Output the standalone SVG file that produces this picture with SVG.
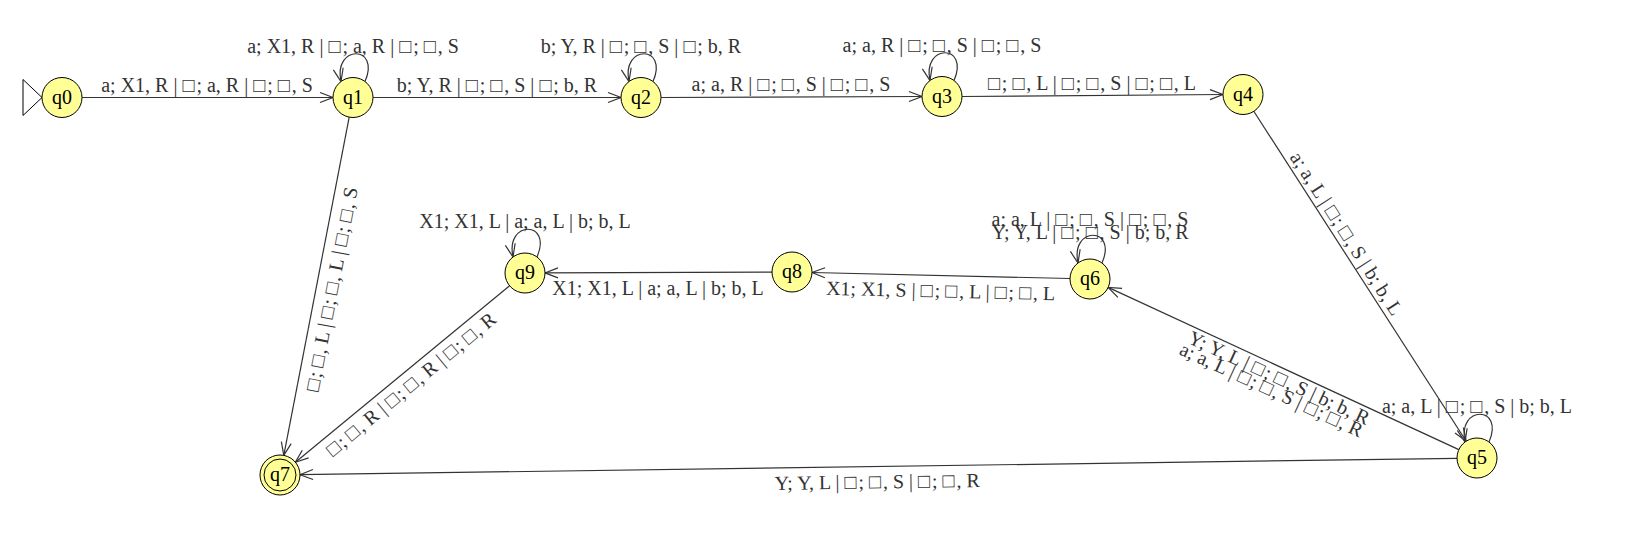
<svg xmlns="http://www.w3.org/2000/svg" width="1628" height="537" viewBox="0 0 1628 537">
<style>
.node circle{fill:#ffff96;stroke:#000;stroke-width:1}
.node text{font-family:"Liberation Serif","DejaVu Serif",serif;font-size:20px;fill:#000;text-anchor:middle}
.edge{stroke:#333;stroke-width:1.2;fill:none;marker-end:url(#arr)}
.lbl{font-family:"Liberation Serif","DejaVu Serif",serif;font-size:20px;fill:#333;text-anchor:middle}
.b{letter-spacing:1.85px}
</style>
<defs>
<marker id="arr" markerUnits="userSpaceOnUse" viewBox="-14 -7 15 14" refX="0" refY="0" markerWidth="15" markerHeight="14" orient="auto">
<path d="M-13,-5 L0,0 L-13,5" fill="none" stroke="#333" stroke-width="1.2"/>
</marker>
</defs>
<rect width="1628" height="537" fill="#fff"/>
<g id="connectors">
<path class="edge" d="M82,97.5 L333,97.5"/>
<text class="lbl" x="207" y="91.5">a; X1, R | <tspan class="b">□</tspan>; a, R | <tspan class="b">□</tspan>; <tspan class="b">□</tspan>, S</text>
<path class="edge" d="M365,81.5 C381,44.5 333,44.5 341,81.5"/>
<text class="lbl" x="353" y="52.5">a; X1, R | <tspan class="b">□</tspan>; a, R | <tspan class="b">□</tspan>; <tspan class="b">□</tspan>, S</text>
<path class="edge" d="M373,97.5 L621,97.5"/>
<text class="lbl" x="497" y="91.5">b; Y, R | <tspan class="b">□</tspan>; <tspan class="b">□</tspan>, S | <tspan class="b">□</tspan>; b, R</text>
<path class="edge" d="M653,81.5 C669,44.5 621,44.5 629,81.5"/>
<text class="lbl" x="641" y="52.5">b; Y, R | <tspan class="b">□</tspan>; <tspan class="b">□</tspan>, S | <tspan class="b">□</tspan>; b, R</text>
<path class="edge" d="M661,97.5 L922,96.5"/>
<text class="lbl" x="791" y="91">a; a, R | <tspan class="b">□</tspan>; <tspan class="b">□</tspan>, S | <tspan class="b">□</tspan>; <tspan class="b">□</tspan>, S</text>
<path class="edge" d="M954,80.5 C970,43.5 922,43.5 930,80.5"/>
<text class="lbl" x="942" y="51.5">a; a, R | <tspan class="b">□</tspan>; <tspan class="b">□</tspan>, S | <tspan class="b">□</tspan>; <tspan class="b">□</tspan>, S</text>
<path class="edge" d="M962,96.5 L1223,94.5"/>
<text class="lbl" x="1092" y="89.5"><tspan class="b">□</tspan>; <tspan class="b">□</tspan>, L | <tspan class="b">□</tspan>; <tspan class="b">□</tspan>, S | <tspan class="b">□</tspan>; <tspan class="b">□</tspan>, L</text>
<path class="edge" d="M1253.8,111.3 L1466.2,441.2"/>
<text class="lbl" transform="translate(1336.6,239.9) rotate(57.23)" x="0" y="-5">a; a, L | <tspan class="b">□</tspan>; <tspan class="b">□</tspan>, S | b; b, L</text>
<path class="edge" d="M1489,442 C1505,405 1457,405 1465,442"/>
<text class="lbl" x="1477" y="413">a; a, L | <tspan class="b">□</tspan>; <tspan class="b">□</tspan>, S | b; b, L</text>
<path class="edge" d="M1458.8,449.6 L1108.2,287.4"/>
<g transform="translate(1283.5,368.5) rotate(24.82)">
<text class="lbl" x="0" y="17">Y; Y, L | <tspan class="b">□</tspan>; <tspan class="b">□</tspan>, S | b; b, R</text>
<text class="lbl" x="-2" y="31">a; a, L | <tspan class="b">□</tspan>; <tspan class="b">□</tspan>, S | <tspan class="b">□</tspan>; <tspan class="b">□</tspan>, R</text>
</g>
<path class="edge" d="M1102,263 C1118,226 1070,226 1078,263"/>
<text class="lbl" x="1090" y="226">a; a, L | <tspan class="b">□</tspan>; <tspan class="b">□</tspan>, S | <tspan class="b">□</tspan>; <tspan class="b">□</tspan>, S</text>
<text class="lbl" x="1090" y="239">Y; Y, L | <tspan class="b">□</tspan>; <tspan class="b">□</tspan>, S | b; b, R</text>
<path class="edge" d="M1070,278.5 L812,272.5"/>
<text class="lbl" transform="translate(941,275.5) rotate(1.35)" x="0" y="22">X1; X1, S | <tspan class="b">□</tspan>; <tspan class="b">□</tspan>, L | <tspan class="b">□</tspan>; <tspan class="b">□</tspan>, L</text>
<path class="edge" d="M772,272.1 L545,272.9"/>
<text class="lbl" x="658" y="294.5">X1; X1, L | a; a, L | b; b, L</text>
<path class="edge" d="M537,257 C553,220 505,220 513,257"/>
<text class="lbl" x="525" y="228">X1; X1, L | a; a, L | b; b, L</text>
<path class="edge" d="M509.6,285.7 L295.4,462.3"/>
<text class="lbl" transform="translate(402.5,374) rotate(-39.51)" x="0" y="20"><tspan class="b">□</tspan>; <tspan class="b">□</tspan>, R | <tspan class="b">□</tspan>; <tspan class="b">□</tspan>, R | <tspan class="b">□</tspan>; <tspan class="b">□</tspan>, R</text>
<path class="edge" d="M349.2,117.1 L283.8,455.4"/>
<text class="lbl" transform="translate(316.5,286.25) rotate(-79.06)" x="0" y="22"><tspan class="b">□</tspan>; <tspan class="b">□</tspan>, L | <tspan class="b">□</tspan>; <tspan class="b">□</tspan>, L | <tspan class="b">□</tspan>; <tspan class="b">□</tspan>, S</text>
<path class="edge" d="M1457,458.3 L300,474.7"/>
<text class="lbl" transform="translate(877,466.5) rotate(-0.81)" x="0" y="22">Y; Y, L | <tspan class="b">□</tspan>; <tspan class="b">□</tspan>, S | <tspan class="b">□</tspan>; <tspan class="b">□</tspan>, R</text>
</g>
<g id="q0" class="node"><path d="M42,97.5 L23,79.5 L23,115.5 Z" fill="none" stroke="#000"/><circle cx="62" cy="97.5" r="20"/><text x="62" y="103.5">q0</text></g>
<g id="q1" class="node"><circle cx="353" cy="97.5" r="20"/><text x="353" y="103.5">q1</text></g>
<g id="q2" class="node"><circle cx="641" cy="97.5" r="20"/><text x="641" y="103.5">q2</text></g>
<g id="q3" class="node"><circle cx="942" cy="96.5" r="20"/><text x="942" y="102.5">q3</text></g>
<g id="q4" class="node"><circle cx="1243" cy="94.5" r="20"/><text x="1243" y="100.5">q4</text></g>
<g id="q5" class="node"><circle cx="1477" cy="458" r="20"/><text x="1477" y="464">q5</text></g>
<g id="q6" class="node"><circle cx="1090" cy="279" r="20"/><text x="1090" y="285">q6</text></g>
<g id="q7" class="node"><circle cx="280" cy="475" r="20"/><circle cx="280" cy="475" r="16"/><text x="280" y="481">q7</text></g>
<g id="q8" class="node"><circle cx="792" cy="272" r="20"/><text x="792" y="278">q8</text></g>
<g id="q9" class="node"><circle cx="525" cy="273" r="20"/><text x="525" y="279">q9</text></g>
</svg>
